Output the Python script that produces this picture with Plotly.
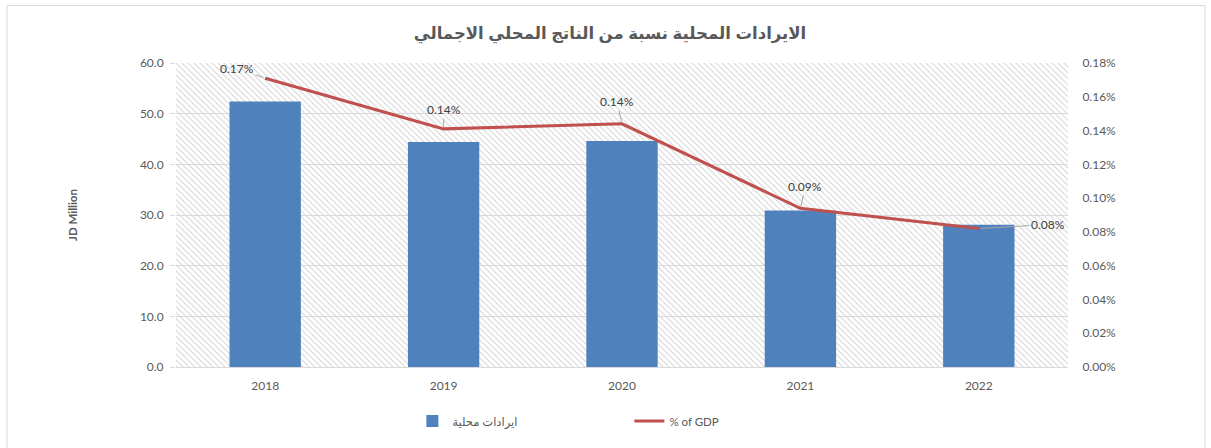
import base64
import plotly.graph_objects as go

# Local revenue (JD million) and its share of GDP
years = ["2018", "2019", "2020", "2021", "2022"]
revenue_jd_million = [52.4, 44.4, 44.6, 30.9, 28.1]
share_of_gdp = [0.00171, 0.00141, 0.00144, 0.00094, 0.00082]

left_ticks = [0, 10, 20, 30, 40, 50, 60]
right_ticks = [0, 0.0002, 0.0004, 0.0006, 0.0008, 0.0010, 0.0012, 0.0014, 0.0016, 0.0018]

title_text = "الايرادات المحلية نسبة من الناتج المحلي الاجمالي"
bar_name = "ايرادات محلية"
line_name = "% of GDP"
y_title = "JD Million"

# label offsets (pixels) for the percentage annotations
label_dx = [-28, 0, -5, 5, 69]
label_dy = [-10, -19, -22, -22, -4]

TXT = "#595959"
GRID = "#d9d9d9"
FONT = "Lato, Calibri, Arial, DejaVu Sans, sans-serif"

# diagonal hatch used as the plot-area background
hatch_svg = (
    '<svg xmlns="http://www.w3.org/2000/svg" width="892" height="307" '
    'preserveAspectRatio="none">'
    '<defs><pattern id="h" width="6" height="6" patternUnits="userSpaceOnUse">'
    '<path d="M-1,-1 L7,7 M-1,5 L1,7 M5,-1 L7,1" stroke="#d6d6d6" stroke-width="1.1"/>'
    '</pattern></defs>'
    '<rect width="100%" height="100%" fill="url(#h)"/></svg>'
)
hatch_uri = "data:image/svg+xml;base64," + base64.b64encode(hatch_svg.encode()).decode()

fig = go.Figure()

fig.add_trace(go.Bar(
    x=years, y=revenue_jd_million, name=bar_name,
    marker=dict(color="#4F81BD", line=dict(width=0)),
))

fig.add_trace(go.Scatter(
    x=years, y=share_of_gdp, name=line_name,
    yaxis="y2", mode="lines",
    line=dict(color="#C0504D", width=3),
))

annotations = []
# category axis: annotations are placed by category index
for i, (v, dx, dy) in enumerate(zip(share_of_gdp, label_dx, label_dy)):
    annotations.append(dict(
        x=i, y=v, xref="x", yref="y2",
        text=f"{v:.2%}", showarrow=True, arrowhead=0, arrowwidth=1,
        arrowcolor="#a6a6a6", ax=dx, ay=dy, standoff=2,
        font=dict(size=12, color="#404040", family=FONT),
    ))

annotations.append(dict(
    x=(72 - 176) / 892, y=0.5, xref="paper", yref="paper", text=f"<b>{y_title}</b>",
    xanchor="center", yanchor="middle",
    textangle=-90, showarrow=False, font=dict(size=11.5, color=TXT, family=FONT),
))

fig.update_layout(
    width=1211, height=448,
    margin=dict(l=176, r=143, t=63, b=78),
    paper_bgcolor="white", plot_bgcolor="rgba(0,0,0,0)",
    font=dict(family=FONT, color=TXT, size=12),
    title=dict(text=f"<b>{title_text}</b>", x=(610 - 176) / 892, xref="paper",
               xanchor="center", y=0.926, yanchor="middle",
               font=dict(size=16.5, color=TXT, family="Arial, DejaVu Sans, sans-serif")),
    bargap=0.6,
    showlegend=True,
    legend=dict(orientation="h", x=0.265, y=-0.13, xanchor="left", yanchor="top",
                font=dict(size=11.5, color=TXT, family=FONT),
                entrywidth=172, entrywidthmode="pixels", traceorder="normal"),
    xaxis=dict(type="category", showgrid=False,
               showline=True, linecolor=GRID, linewidth=1, ticks="",
               ticklabelstandoff=8,
               tickfont=dict(size=12, color=TXT)),
    yaxis=dict(range=[0, 60], tickvals=left_ticks,
               ticktext=[f"{t:.1f}" for t in left_ticks],
               showgrid=True, gridcolor=GRID, gridwidth=1, zeroline=False,
               ticks="outside", ticklen=5, tickcolor=GRID, ticklabelstandoff=4,
               tickfont=dict(size=12, color=TXT)),
    yaxis2=dict(overlaying="y", side="right", range=[0, 0.0018],
                tickvals=right_ticks, ticktext=[f"{t:.2%}" for t in right_ticks],
                showgrid=False, zeroline=False, ticks="outside", ticklen=5,
                tickcolor="rgba(0,0,0,0)", ticklabelstandoff=6,
                tickfont=dict(size=12, color=TXT)),
    annotations=annotations,
    images=[dict(source=hatch_uri, xref="paper", yref="paper", x=0, y=1,
                 sizex=1, sizey=1, xanchor="left", yanchor="top",
                 sizing="stretch", layer="below")],
    shapes=[dict(type="rect", xref="paper", yref="paper",
                 x0=-0.1895, x1=1.1536, y0=-0.3, y1=1.189,
                 line=dict(color="#d9d9d9", width=1), fillcolor="rgba(0,0,0,0)",
                 layer="below")],
)

fig.write_html("out.html")
